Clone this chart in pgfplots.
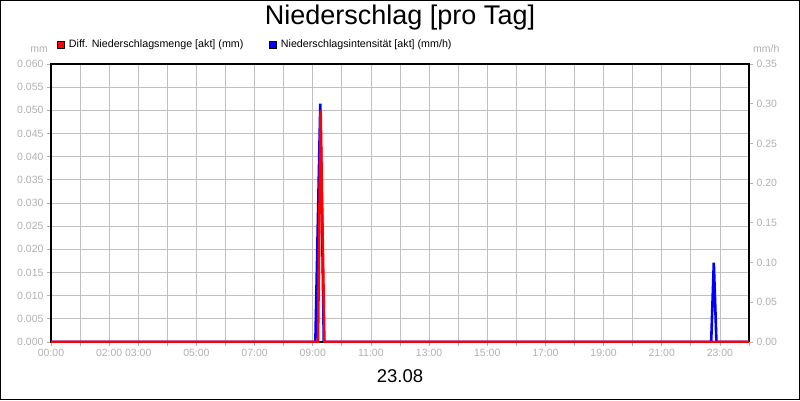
\documentclass[border=0pt]{standalone}
\usepackage{fontspec}
\setmainfont{Liberation Sans}
\usepackage{pgfplots}
\usepackage{pgfplotstable}
\pgfplotsset{compat=1.18}

\definecolor{gridgray}{RGB}{192,192,192}
\definecolor{labelgray}{RGB}{176,176,176}

% Diff. Niederschlagsmenge (mm), left axis
\pgfplotstableread{
h mm
0 0
9.18 0
9.27 0.050
9.40 0
24 0
}\diffdata

% Niederschlagsintensitaet (mm/h), right axis
\pgfplotstableread{
h mmh
0 0
9.09 0
9.26 0.30
9.38 0
22.70 0
22.79 0.10
22.88 0
24 0
}\intdata

\pgfplotsset{
  base/.style={
    width=698pt, height=278pt, scale only axis,
    at={(0,0)}, anchor=south west,
    xmin=0, xmax=24,
    scaled y ticks=false,
    tick label style={font=\fontsize{10.5}{12}\selectfont, text=labelgray},
    tick style={color=labelgray, line width=0.8pt},
    major tick length=4pt,
    tick align=outside,
    /pgf/number format/assume math mode=true,
  },
}

\begin{document}
\begin{tikzpicture}
\path[use as bounding box] (-51pt,-58pt) rectangle (749pt,342pt);

% frame, grid, left and bottom ticks
\begin{axis}[
  base,
  ymin=0, ymax=0.06,
  ytick={0,0.005,...,0.0601},
  ytick pos=left, xtick pos=bottom,
  xtick={0,1,...,24},
  xticklabels={00:00,,02:00,03:00,,05:00,,07:00,,09:00,,11:00,,13:00,,15:00,,17:00,,19:00,,21:00,,23:00,},
  yticklabel style={/pgf/number format/fixed, /pgf/number format/fixed zerofill, /pgf/number format/precision=3},
  grid=major,
  major grid style={color=gridgray, line width=0.8pt},
  axis line style={black, line width=1.2pt},
]
\end{axis}

% right axis: intensity
\begin{axis}[
  base,
  ymin=0, ymax=0.35,
  ytick={0,0.05,...,0.351},
  axis y line*=right, axis x line=none,
  y axis line style={black, line width=1.2pt},
  yticklabel style={/pgf/number format/fixed, /pgf/number format/fixed zerofill, /pgf/number format/precision=2},
]
\addplot[blue, line width=2.6pt, line join=bevel] table[x=h, y=mmh] {\intdata};
\end{axis}

% left axis again: amount, drawn on top
\begin{axis}[
  base,
  ymin=0, ymax=0.06,
  hide axis,
  legend columns=2,
  legend style={at={(0.009,1.069)}, anchor=west, draw=none, fill=none,
    inner sep=0pt, font=\fontsize{10.7}{12}\selectfont,
    /tikz/every odd column/.append style={column sep=2pt},
    /tikz/every even column/.append style={column sep=24pt}},
  legend image code/.code={\filldraw[#1, draw=black, line width=0.5pt] (0pt,-3.5pt) rectangle (7pt,3.5pt);},
]
\addplot[red, line width=2.6pt, line join=bevel] table[x=h, y=mm] {\diffdata};
\addlegendentry{Diff. Niederschlagsmenge [akt] (mm)}
\addlegendimage{blue}
\addlegendentry{Niederschlagsintensität [akt] (mm/h)}
\end{axis}

\node[anchor=base, font=\fontsize{27}{30}\selectfont] at (349pt,317pt) {Niederschlag [pro Tag]};
\node[anchor=base, font=\fontsize{18.5}{22}\selectfont] at (349pt,-40.7pt) {23.08};
\node[anchor=base east, inner sep=0pt, text=labelgray, font=\fontsize{10.5}{12}\selectfont] at (-3pt,289.5pt) {mm};
\node[anchor=base west, inner sep=0pt, text=labelgray, font=\fontsize{10.5}{12}\selectfont] at (702pt,289.5pt) {mm/h};

\draw[black, line width=1pt] (-50.5pt,-57.5pt) rectangle (748.5pt,341.5pt);
\end{tikzpicture}
\end{document}
